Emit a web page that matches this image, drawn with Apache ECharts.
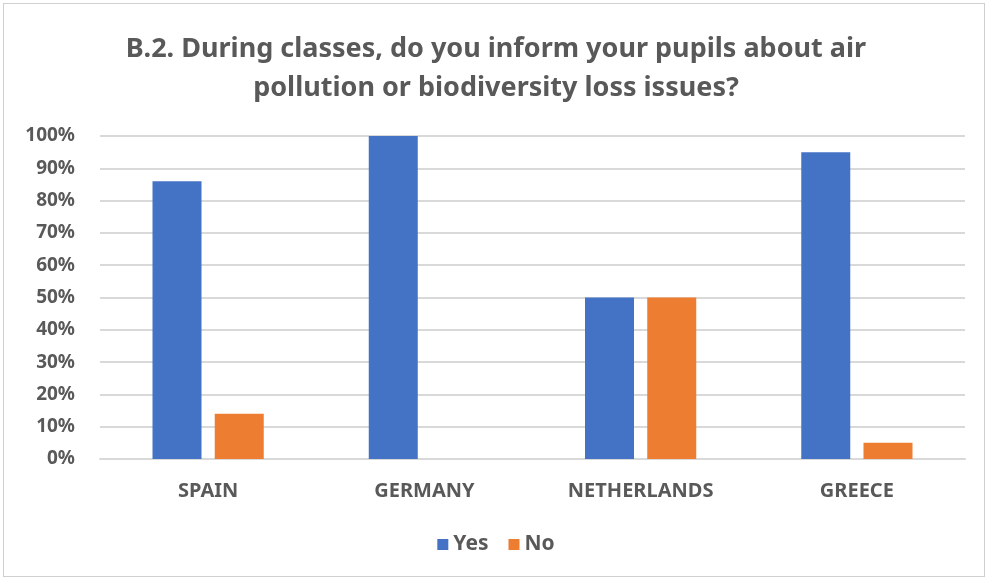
<!DOCTYPE html>
<html>
<head>
<meta charset="utf-8">
<script src="https://cdn.jsdelivr.net/npm/echarts@6/dist/echarts.min.js"></script>
<style>
  html, body { margin: 0; padding: 0; background: #ffffff; }
  #frame { position: absolute; left: 3px; top: 3px; width: 982px; height: 574px; border: 1.5px solid #d0d0d0; box-sizing: border-box; }
  #chart { width: 992px; height: 583px; }
</style>
</head>
<body>
<div id="frame"></div>
<div id="chart"></div>
<script>
// Survey answers per country (share of teachers)
const countries = ['SPAIN', 'GERMANY', 'NETHERLANDS', 'GREECE'];
const yesShare = [0.86, 1.00, 0.50, 0.95];
const noShare = [0.14, 0.00, 0.50, 0.05];
const seriesNames = ['Yes', 'No'];

const textGray = '#595959';
const font = 'Noto Sans';

const chart = echarts.init(document.getElementById('chart'), null, { renderer: 'canvas' });
chart.setOption({
  animation: false,
  backgroundColor: 'transparent',
  title: {
    text: 'B.2. During classes, do you inform your pupils about air\npollution or biodiversity loss issues?',
    left: 'center',
    top: 25,
    textStyle: { color: textGray, fontFamily: font, fontWeight: 'bold', fontSize: 27, lineHeight: 39 }
  },
  legend: {
    data: seriesNames,
    bottom: 23,
    left: 'center',
    itemWidth: 11,
    itemHeight: 11,
    itemGap: 20,
    icon: 'rect',
    textStyle: { color: textGray, fontFamily: font, fontWeight: 'bold', fontSize: 21 }
  },
  grid: { left: 100, right: 27, top: 136, bottom: 124, containLabel: false },
  xAxis: {
    type: 'category',
    data: countries,
    axisLine: { lineStyle: { color: '#d9d9d9', width: 2 } },
    axisTick: { show: false },
    axisLabel: { color: textGray, fontFamily: font, fontWeight: 'bold', fontSize: 20, margin: 22 }
  },
  yAxis: {
    type: 'value',
    min: 0,
    max: 1,
    interval: 0.1,
    axisLine: { show: false },
    axisTick: { show: false },
    splitLine: { lineStyle: { color: '#d9d9d9', width: 2 } },
    axisLabel: {
      color: textGray, fontFamily: font, fontWeight: 'bold', fontSize: 19, margin: 25,
      formatter: v => Math.round(v * 100) + '%'
    }
  },
  series: [
    {
      name: seriesNames[0], type: 'bar', data: yesShare,
      barWidth: 49, barGap: '27%',
      itemStyle: { color: '#4472c4' }
    },
    {
      name: seriesNames[1], type: 'bar', data: noShare,
      barWidth: 49,
      itemStyle: { color: '#ed7d31' }
    }
  ]
});
</script>
</body>
</html>
